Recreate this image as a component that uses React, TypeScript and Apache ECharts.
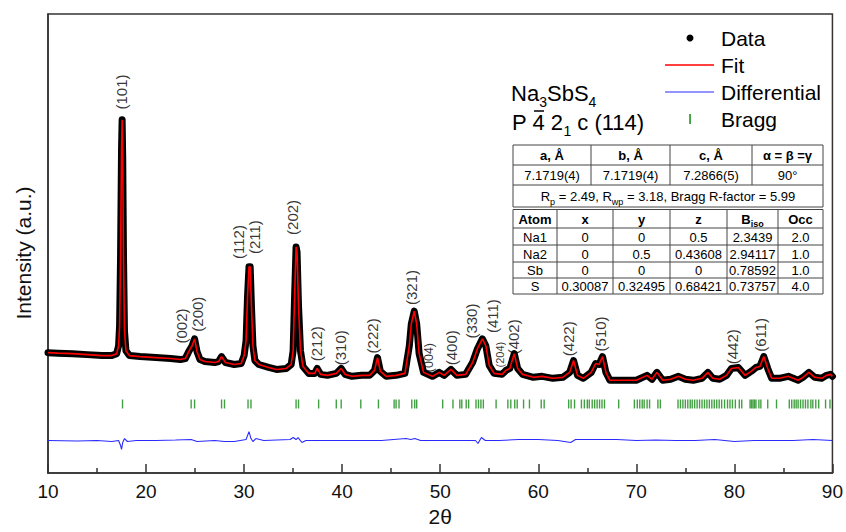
import React, { useEffect, useRef } from "react";
import * as echarts from "echarts";

// ---------- Observed pattern (2θ, intensity a.u.) ----------
const twoTheta = [
  10.0, 11.0, 12.5, 14.0, 15.5, 16.5, 17.0, 17.2, 17.3, 17.4, 17.5, 17.56, 17.62, 17.7, 17.8, 17.95, 18.3,
  19.4, 21.0, 22.5, 23.5, 24.0, 24.4, 24.7, 24.95, 25.2, 25.5, 26.0, 27.0, 27.4, 27.7, 28.1, 29.0, 29.7,
  30.0, 30.2, 30.35, 30.5, 30.62, 30.75, 30.9, 31.1, 31.5, 32.5, 33.3, 34.3, 34.8, 35.0, 35.15, 35.3, 35.4,
  35.55, 35.75, 36.0, 36.6, 37.2, 37.45, 37.8, 38.5, 39.4, 39.9, 40.3, 41.0, 42.0, 42.8, 43.3, 43.6, 43.9,
  44.5, 45.5, 46.4, 46.85, 47.05, 47.35, 47.6, 47.85, 48.3, 49.2, 49.9, 50.4, 51.1, 51.7, 52.6, 53.3, 53.8,
  54.3, 54.65, 55.0, 55.5, 56.3, 56.7, 57.1, 57.55, 57.9, 58.4, 59.5, 60.4, 61.5, 62.5, 63.2, 63.6, 64.0,
  64.6, 65.4, 65.85, 66.2, 66.55, 66.9, 67.3, 68.5, 70.0, 71.1, 71.6, 72.1, 72.7, 73.5, 74.3, 75.0, 75.8,
  76.7, 77.3, 77.8, 78.5, 79.2, 79.7, 80.4, 81.1, 81.7, 82.2, 82.6, 83.0, 83.4, 83.8, 84.6, 85.5, 86.5,
  87.0, 87.6, 88.2, 88.9, 89.4, 89.8, 90.0,
];
const observed = [
  1220, 1215, 1210, 1200, 1190, 1190, 1210, 1290, 1490, 2190, 3290, 3580, 3190, 2190, 1440, 1240, 1190,
  1180, 1170, 1160, 1150, 1160, 1240, 1290, 1360, 1230, 1150, 1130, 1120, 1130, 1180, 1120, 1100, 1110,
  1190, 1340, 1790, 2090, 2090, 1690, 1290, 1140, 1100, 1070, 1050, 1060, 1100, 1240, 1790, 2290, 2240,
  1690, 1240, 1080, 1010, 1010, 1060, 1000, 990, 1010, 1060, 1000, 980, 990, 990, 1040, 1170, 1030,
  980, 990, 1010, 1290, 1510, 1640, 1510, 1210, 1020, 980, 1020, 990, 1050, 990, 1000, 1120, 1260,
  1360, 1290, 1090, 1010, 1000, 1040, 1060, 1210, 1060, 1000, 970, 980, 960, 970, 1020, 1140, 990,
  960, 1020, 1110, 1100, 1180, 1020, 940, 940, 940, 990, 950, 1020, 940, 950, 980, 950, 940,
  960, 1020, 960, 950, 990, 1060, 1070, 990, 1030, 1070, 1080, 1180, 1060, 960, 960, 980, 940,
  970, 1020, 970, 960, 990, 1000, 980,
];

// ---------- Difference curve ----------
const diffTwoTheta = [
  10, 13, 15, 16.5, 17.2, 17.4, 17.5, 17.62, 17.8, 18.1, 19, 21, 23, 24.6, 25.2, 27, 28, 29, 30.2, 30.5,
  30.7, 30.9, 31.2, 32, 34.7, 35.0, 35.3, 35.5, 35.9, 36.3, 40, 44, 46.5, 47.0, 47.4, 48, 52, 53.6, 53.85,
  54.2, 54.6, 56, 58, 60, 62, 63.3, 63.8, 66, 68, 70, 72, 74, 76, 78, 80, 82, 84, 86, 88, 90,
];
const difference = [
  330, 325, 330, 320, 330, 280, 240, 310, 350, 320, 330, 330, 335, 340, 320, 330, 320, 320, 340, 420,
  350, 320, 350, 330, 340, 360, 340, 360, 310, 330, 330, 330, 350, 340, 350, 330, 330, 330, 300,
  360, 330, 330, 340, 340, 330, 310, 340, 340, 340, 330, 335, 330, 330, 340, 320, 330, 330, 330, 340, 330,
];

// ---------- Bragg reflection positions ----------
const braggPositions = [
  17.6, 24.6, 24.95, 27.7, 28.0, 30.4, 30.7, 35.3, 35.55, 37.6, 39.4, 39.9, 41.9, 43.7, 45.3, 45.5, 45.8,
  47.1, 47.4, 47.6, 50.25, 51.3, 52.0, 52.2, 52.65, 52.9, 53.65, 53.9, 54.15, 54.4, 55.7, 56.9, 57.2, 57.6,
  57.85, 58.5, 59.1, 60.3, 60.6, 63.1, 63.35, 63.7, 64.4, 64.7, 65.0, 65.2, 65.5, 65.75, 66.0, 66.25, 66.5,
  66.75, 68.2, 69.8, 70.1, 70.35, 70.6, 70.8, 71.1, 71.35, 72.2, 72.45, 74.25, 74.5, 74.75, 75.0, 75.25,
  75.5, 75.7, 75.95, 76.2, 76.45, 76.7, 76.95, 77.2, 77.45, 77.7, 77.95, 78.2, 78.45, 78.7, 79.0, 79.3,
  79.55, 79.8, 80.1, 80.5, 80.75, 81.6, 81.75, 81.9, 82.05, 82.2, 82.5, 82.7, 83.4, 84.3, 85.6, 85.85,
  86.1, 86.3, 86.5, 86.75, 87.0, 87.25, 87.5, 87.8, 88.0, 88.3, 88.6, 89.3, 89.75,
];
const braggLevel = 700;

// ---------- Peak (hkl) labels ----------
const peakLabels = ["(101)", "(002)", "(200)", "(112)", "(211)", "(202)", "(212)", "(310)", "(222)", "(321)",
  "(004)", "(400)", "(330)", "(411)", "(204)", "(402)", "(422)", "(510)", "(442)", "(611)"];
const peakLabelX = [17.53, 23.64, 25.27, 29.44, 31.07, 34.94, 37.38, 39.82, 43.08, 47.05,
  48.88, 51.12, 53.15, 55.29, 56.1, 57.43, 63.13, 66.39, 79.82, 82.67];
const peakLabelY = [3860, 1490, 1610, 2340, 2390, 2590, 1310, 1270, 1390, 1880,
  1170, 1270, 1540, 1590, 1200, 1380, 1360, 1410, 1280, 1400];
const peakLabelSize = [15, 15, 15, 15, 15, 15, 15, 15, 15, 15, 12.5, 15, 15, 15, 11, 15, 15, 15, 15, 15];

// ---------- Axis ----------
const xMin = 10;
const xMax = 90;
const xStep = 10;
const yMax = 4650;

// ---------- Table contents ----------
const cellHeaders = ["a, Å", "b, Å", "c, Å", "α = β =γ"];
const cellValues = ["7.1719(4)", "7.1719(4)", "7.2866(5)", "90°"];
const rFactorsRich = "{n|R}{s|p}{n| = 2.49, R}{s|wp}{n| = 3.18, Bragg R-factor = 5.99}";
const atomHeaders = ["{b|Atom}", "{b|x}", "{b|y}", "{b|z}", "{b|B}{bs|iso}", "{b|Occ}"];
const atomRows = [
  ["Na1", "0", "0", "0.5", "2.3439", "2.0"],
  ["Na2", "0", "0.5", "0.43608", "2.94117", "1.0"],
  ["Sb", "0", "0", "0", "0.78592", "1.0"],
  ["S", "0.30087", "0.32495", "0.68421", "0.73757", "4.0"],
];
const legendNames = ["Data", "Fit", "Differential", "Bragg"];
const yAxisTitle = "Intensity (a.u.)";

const FONT = "'Liberation Sans', Arial, Helvetica, sans-serif";

function buildGraphics() {
  const g: any[] = [];
  const lineColor = "#444";
  const hl = (x1: number, x2: number, y: number) =>
    g.push({ type: "line", shape: { x1, y1: y, x2, y2: y }, style: { stroke: lineColor, lineWidth: 1 }, z: 100 });
  const vl = (x: number, y1: number, y2: number) =>
    g.push({ type: "line", shape: { x1: x, y1, x2: x, y2 }, style: { stroke: lineColor, lineWidth: 1 }, z: 100 });
  const txt = (x: number, y: number, text: string, extra: any = {}) =>
    g.push({
      type: "text", x, y, z: 101,
      style: { text, fontSize: 13, fontFamily: FONT, fill: "#000", align: "center", verticalAlign: "middle", ...extra },
    });

  // ----- Y axis title -----
  g.push({
    type: "text", x: 23, y: 253, rotation: Math.PI / 2, z: 101,
    style: { text: yAxisTitle, fontSize: 21, fontFamily: FONT, fill: "#111", align: "center", verticalAlign: "middle" },
  });

  // ----- Title (formula and space group, with subscripts) -----
  const big = { fontSize: 22, align: "left" };
  const sub = { fontSize: 14, align: "left" };
  txt(511, 93, "Na", big);
  txt(539.2, 101.5, "3", sub);
  txt(547, 93, "SbS", big);
  txt(588.6, 101.5, "4", sub);
  txt(512, 122, "P 4 2", big);
  txt(563.4, 131, "1", sub);
  txt(571.2, 122, " c (114)", big);
  g.push({ type: "line", shape: { x1: 534, y1: 111, x2: 544, y2: 111 }, style: { stroke: "#000", lineWidth: 1.5 }, z: 101 });

  // ----- Legend -----
  const lx = 721;
  const ly = [38, 65, 92, 119];
  g.push({ type: "circle", shape: { cx: 690, cy: ly[0], r: 3.5 }, style: { fill: "#000" }, z: 101 });
  g.push({ type: "line", shape: { x1: 665, y1: ly[1], x2: 714, y2: ly[1] }, style: { stroke: "#ff0000", lineWidth: 1.5 }, z: 101 });
  g.push({ type: "line", shape: { x1: 665, y1: ly[2], x2: 714, y2: ly[2] }, style: { stroke: "#2a2aff", lineWidth: 1.2 }, z: 101 });
  g.push({ type: "rect", shape: { x: 689.3, y: 114, width: 1.5, height: 10 }, style: { fill: "#138813" }, z: 101 });
  legendNames.forEach((n, i) => txt(lx, ly[i], n, { fontSize: 21, align: "left" }));

  // ----- Table 1 (cell parameters) -----
  const t1x = [513, 591, 670, 752, 823];
  const t1y = [145, 165, 185, 207];
  g.push({ type: "rect", shape: { x: 513, y: 145, width: 310, height: 62 }, style: { fill: "#fff", stroke: lineColor, lineWidth: 1 }, z: 99 });
  hl(513, 823, t1y[1]);
  hl(513, 823, t1y[2]);
  for (let i = 1; i < t1x.length - 1; i++) vl(t1x[i], t1y[0], t1y[2]);
  for (let i = 0; i < 4; i++) {
    const cx = (t1x[i] + t1x[i + 1]) / 2;
    txt(cx, (t1y[0] + t1y[1]) / 2 + 0.5, cellHeaders[i], { fontWeight: "bold" });
    txt(cx, (t1y[1] + t1y[2]) / 2 + 0.5, cellValues[i]);
  }
  g.push({
    type: "text", x: 668, y: 196, z: 101,
    style: {
      text: rFactorsRich, align: "center", verticalAlign: "middle", fontFamily: FONT,
      rich: {
        n: { fontSize: 13, lineHeight: 20, fill: "#000", fontFamily: FONT },
        s: { fontSize: 9, lineHeight: 9, verticalAlign: "bottom", fill: "#000", fontFamily: FONT },
      },
    },
  });

  // ----- Table 2 (atomic positions) -----
  const t2x = [513, 557, 613, 670, 727, 778, 823];
  const t2y = [209.5, 228, 245, 262, 278, 294];
  g.push({ type: "rect", shape: { x: 513, y: 209.5, width: 310, height: 84.5 }, style: { fill: "#fff", stroke: lineColor, lineWidth: 1 }, z: 99 });
  for (let r = 1; r < t2y.length - 1; r++) hl(513, 823, t2y[r]);
  for (let c = 1; c < t2x.length - 1; c++) vl(t2x[c], t2y[0], t2y[t2y.length - 1]);
  for (let c = 0; c < 6; c++) {
    const cx = (t2x[c] + t2x[c + 1]) / 2;
    g.push({
      type: "text", x: cx, y: (t2y[0] + t2y[1]) / 2 + 0.5, z: 101,
      style: {
        text: atomHeaders[c], align: "center", verticalAlign: "middle", fontFamily: FONT,
        rich: {
          b: { fontSize: 13, fontWeight: "bold", lineHeight: 18, fill: "#000", fontFamily: FONT },
          bs: { fontSize: 9, fontWeight: "bold", lineHeight: 9, verticalAlign: "bottom", fill: "#000", fontFamily: FONT },
        },
      },
    });
    atomRows.forEach((row, r) => txt(cx, (t2y[r + 1] + t2y[r + 2]) / 2 + 0.5, row[c]));
  }
  return g;
}

export default function App() {
  const ref = useRef<HTMLDivElement>(null);
  useEffect(() => {
    document.body.style.margin = "0";
    if (!ref.current) return;
    const chart = echarts.init(ref.current, undefined, { renderer: "svg" });
    const obs = twoTheta.map((t, i) => [t, observed[i]]);
    const diff = diffTwoTheta.map((t, i) => [t, difference[i]]);
    const bragg = braggPositions.map((t) => [t, braggLevel]);
    const labels = peakLabels.map((n, i) => ({
      name: n,
      value: [peakLabelX[i], peakLabelY[i]],
      label: { fontSize: peakLabelSize[i] },
    }));
    chart.setOption({
      animation: false,
      textStyle: { fontFamily: FONT },
      grid: { left: 48, right: 12, top: 14, bottom: 53, show: true, borderColor: "#333", borderWidth: 1.5, backgroundColor: "transparent" },
      xAxis: {
        type: "value", min: xMin, max: xMax, interval: xStep,
        axisLine: { show: true, lineStyle: { color: "#333", width: 1.5 } },
        axisTick: { show: true, inside: true, length: 9, lineStyle: { color: "#333", width: 1.5 } },
        minorTick: { show: true, splitNumber: 2, length: 5, lineStyle: { color: "#333", width: 1.5 } },
        axisLabel: { fontSize: 19, color: "#111", margin: 9, fontFamily: FONT },
        splitLine: { show: false },
        name: "2θ", nameLocation: "middle", nameGap: 30,
        nameTextStyle: { fontSize: 21, color: "#111", fontFamily: FONT },
      },
      yAxis: {
        type: "value", min: 0, max: yMax,
        axisLine: { show: true, lineStyle: { color: "#333", width: 1.5 } },
        axisTick: { show: false }, axisLabel: { show: false }, splitLine: { show: false },
      },
      series: [
        {
          name: "Data", type: "line", data: obs, showSymbol: false, symbol: "none", z: 2,
          lineStyle: { color: "#000", width: 7, join: "round", cap: "round" },
        },
        {
          name: "Fit", type: "line", data: obs, showSymbol: false, symbol: "none", z: 3,
          lineStyle: { color: "#ff0000", width: 1.6 },
        },
        {
          name: "Differential", type: "line", data: diff, showSymbol: false, symbol: "none", z: 3,
          lineStyle: { color: "#2a2aff", width: 1.1 },
        },
        {
          name: "Bragg", type: "scatter", data: bragg, symbol: "rect", symbolSize: [1.4, 9],
          itemStyle: { color: "#138813" }, z: 3,
        },
        {
          name: "hkl", type: "scatter", data: labels, symbolSize: 0.1, z: 4,
          itemStyle: { color: "transparent" },
          label: {
            show: true, formatter: "{b}", rotate: 90, position: "inside", color: "#000",
            textBorderWidth: 0, textBorderColor: "transparent",
            fontFamily: FONT, align: "center", verticalAlign: "middle",
          },
        },
      ],
      graphic: buildGraphics(),
    });
    return () => chart.dispose();
  }, []);
  return <div ref={ref} style={{ width: 846, height: 532 }} />;
}
